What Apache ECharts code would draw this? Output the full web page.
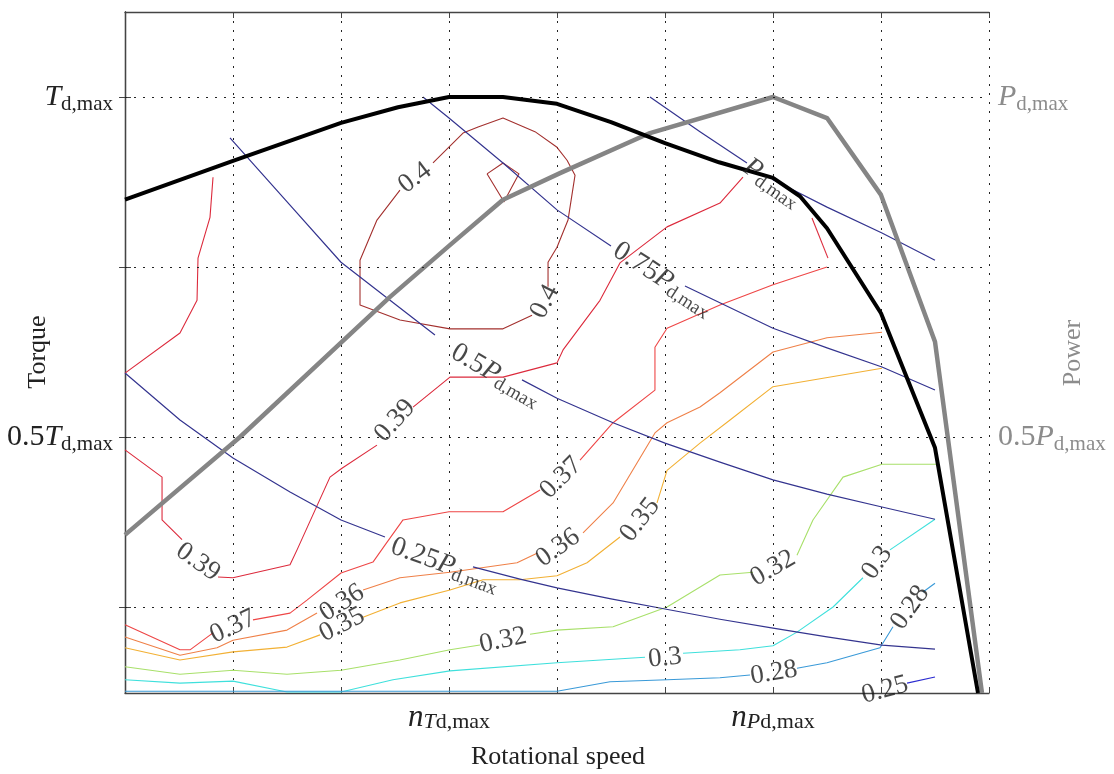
<!DOCTYPE html>
<html><head><meta charset="utf-8">
<script src="https://cdn.jsdelivr.net/npm/echarts@6/dist/echarts.min.js"></script>
<style>html,body{margin:0;padding:0;background:#fff;}#chart{width:1114px;height:774px;}</style>
</head><body><div id="chart"></div>
<script>
// ---------------- data (x: speed in grid units, y: torque as fraction of Td,max) ----------------
const xTickValues = [3, 6];
const xTickNames = ['T', 'P'];
const yGridValues = [0.25, 0.5, 0.75, 1.0];
const yLabelValues = [0.5, 1.0];
const yLabelCoefs = ['0.5', ''];

const torqueCurve = [[0,0.849],[1,0.906],[2,0.962],[2.528,0.985],[3,1.0],[3.5,1.0],[4,0.99],[4.5,0.963],[5,0.932],[5.5,0.904],[6,0.881],[6.25,0.854],[6.5,0.807],[7,0.682],[7.5,0.484],[7.898,0.1235]];
const powerCurve = [[0,0.356],[1.065,0.5],[2.454,0.706],[3,0.781],[3.5,0.849],[4.028,0.888],[4.861,0.947],[6,1.0],[6.5,0.969],[7,0.856],[7.5,0.64],[7.935,0.1235]];

const pMaxA = [[4.861,1.0],[5.324,0.949],[5.759,0.903]];
const pMaxB = [[5.991,0.879],[6.5,0.838],[7.009,0.8],[7.5,0.76]];
const p075A = [[2.759,1.0],[3.0,0.969],[3.5,0.903],[4.0,0.834],[4.5,0.781]];
const p075B = [[5.185,0.722],[6.0,0.66],[6.5,0.631],[7.009,0.603],[7.5,0.569]];
const p050A = [[0.972,0.94],[1.528,0.841],[2.0,0.757],[2.454,0.701],[2.87,0.65]];
const p050B = [[3.676,0.584],[4.0,0.557],[4.519,0.521],[5.0,0.491],[5.509,0.463],[6.0,0.437],[6.5,0.416],[7.009,0.397],[7.5,0.379]];
const p025A = [[0,0.594],[0.509,0.525],[1.0,0.469],[1.528,0.419],[2.0,0.378],[2.407,0.353]];
const p025B = [[3.222,0.309],[3.657,0.291],[4.0,0.278],[4.5,0.262],[5.0,0.247],[5.509,0.232],[6.0,0.219],[6.5,0.206],[7.009,0.194],[7.5,0.188]];

const c40a = [[3.917,0.721],[3.917,0.757],[4.0,0.779],[4.102,0.819],[4.167,0.885],[4.093,0.907],[4.0,0.926],[3.796,0.949],[3.5,0.969],[3.269,0.956],[3.13,0.947],[2.852,0.903]];
const c40b = [[2.546,0.863],[2.333,0.819],[2.176,0.76],[2.176,0.694],[2.546,0.672],[3.009,0.659],[3.5,0.659],[3.769,0.679]];
const c40island = [[3.352,0.887],[3.5,0.903],[3.648,0.887],[3.509,0.846],[3.352,0.887]];
const c39a = [[0.815,0.882],[0.787,0.823],[0.676,0.763],[0.667,0.701],[0.509,0.653],[0,0.594]];
const c39b = [[0,0.481],[0.343,0.441],[0.343,0.378],[0.528,0.349]];
const c39c = [[0.861,0.294],[1.0,0.293],[1.528,0.312],[1.593,0.334],[1.898,0.441],[2.009,0.454],[2.333,0.488]];
const c39d = [[2.667,0.544],[3.009,0.588],[3.5,0.588],[4.0,0.609],[4.056,0.628],[4.398,0.701],[4.583,0.756],[5.019,0.809],[5.509,0.844],[5.722,0.882]];
const c39e = [[6.361,0.822],[6.509,0.763]];
const c37a = [[0,0.224],[0.509,0.187],[0.602,0.187],[0.815,0.212]];
const c37b = [[1.185,0.231],[1.528,0.241],[1.685,0.26],[2.0,0.3],[2.296,0.316],[2.407,0.341],[2.574,0.378],[3.0,0.39],[3.5,0.39],[3.843,0.422]];
const c37c = [[4.213,0.466],[4.519,0.521],[4.907,0.569],[4.907,0.632],[5.019,0.66],[5.509,0.694],[6.0,0.724],[6.5,0.75]];
const c36a = [[0,0.206],[0.509,0.179],[0.852,0.19],[1.0,0.201],[1.5,0.216],[1.778,0.241]];
const c36b = [[2.204,0.275],[2.546,0.293],[3.009,0.301],[3.63,0.315],[3.815,0.329]];
const c36c = [[4.241,0.359],[4.519,0.403],[4.907,0.506],[5.019,0.521],[5.324,0.544],[5.509,0.565],[6.0,0.625],[6.5,0.646],[7.009,0.654]];
const c35a = [[0,0.19],[0.509,0.172],[1.0,0.184],[1.5,0.191],[1.806,0.209]];
const c35b = [[2.204,0.235],[2.546,0.256],[3.009,0.275],[3.315,0.29],[3.657,0.29],[4.0,0.296],[4.278,0.315],[4.583,0.353]];
const c35c = [[4.926,0.403],[5.019,0.451],[5.324,0.491],[5.602,0.525],[6.0,0.574],[7.009,0.601]];
const c32a = [[0,0.162],[0.509,0.151],[1.0,0.157],[1.5,0.151],[2.0,0.157],[2.546,0.172],[3.009,0.187],[3.287,0.194]];
const c32b = [[3.75,0.21],[4.0,0.216],[4.519,0.221],[5.019,0.25],[5.509,0.297],[5.815,0.301]];
const c32c = [[6.222,0.326],[6.37,0.378],[6.648,0.441],[7.009,0.46],[7.519,0.46]];
const c30a = [[0,0.143],[0.509,0.138],[1.0,0.141],[1.5,0.125],[2.0,0.125],[2.481,0.143],[3.009,0.156],[4.0,0.168],[4.815,0.176]];
const c30b = [[5.167,0.182],[5.694,0.187],[6.0,0.193],[6.222,0.213],[6.556,0.25],[6.833,0.293]];
const c30c = [[7.083,0.334],[7.5,0.379]];
const c28a = [[0,0.126],[4.0,0.126],[4.491,0.14],[5.019,0.143],[5.509,0.146],[5.787,0.15]];
const c28b = [[6.222,0.16],[6.5,0.168],[6.991,0.19],[7.111,0.221]];
const c28c = [[7.389,0.272],[7.5,0.285]];
const c25a = [[7.241,0.138],[7.5,0.147]];

const contourLevels = ['0.4', '0.39', '0.37', '0.36', '0.35', '0.32', '0.3', '0.28', '0.25'];
const contourSegments = [
  [c40a, c40b, c40island],
  [c39a, c39b, c39c, c39d, c39e],
  [c37a, c37b, c37c],
  [c36a, c36b, c36c],
  [c35a, c35b, c35c],
  [c32a, c32b, c32c],
  [c30a, c30b, c30c],
  [c28a, c28b, c28c],
  [c25a]
];
const powerSegments = [[pMaxA, pMaxB], [p075A, p075B], [p050A, p050B], [p025A, p025B]];

// contour labels: [text, x, y]
const contourLabels = [
  ['0.4',2.685,0.881],['0.4',3.889,0.699],
  ['0.39',0.676,0.316],['0.39',2.5,0.524],
  ['0.37',1.0,0.221],['0.37',4.037,0.44],
  ['0.36',2.009,0.256],['0.36',4.009,0.337],
  ['0.35',2.009,0.224],['0.35',4.769,0.378],
  ['0.32',3.5,0.201],['0.32',6.0,0.307],
  ['0.3',5.0,0.175],['0.3',6.963,0.315],
  ['0.28',6.009,0.153],['0.28',7.269,0.249],
  ['0.25',7.037,0.128]
];
// power labels: [coefficient, x, y]
const powerLabels = [['',5.991,0.874],['0.75',4.981,0.732],['0.5',3.435,0.591],['0.25',2.963,0.312]];

// ---------------- styles ----------------
const FONT = 'Liberation Serif';
const contourColors = ['#a3302e','#dc2a3c','#ee4646','#ef8048','#f2b034','#a8e06a','#3fe0dc','#3a9ad8','#2b2bd0'];
const contourLabelAngles = [37,62,-35,48,25,45,32,35,27,52,12,30,6,55,9,55,15];
const powerLabelAngles = [-35,-33,-30,-20];
const BLUE = '#34348f';

function lineSeries(data, color, width, z) {
  return {type:'line', data:data, showSymbol:false, symbol:'none', silent:true, animation:false, z:z,
    lineStyle:{color:color, width:width, join:'round'}, emphasis:{disabled:true}, clip:true};
}

const series = [];
// horizontal dotted grid lines
series.push({type:'line', data:[], silent:true, animation:false, z:1,
  markLine:{silent:true, animation:false, symbol:['none','none'], label:{show:false},
    lineStyle:{color:'#222', type:[2,7], width:1}, emphasis:{disabled:true},
    data: yGridValues.map(v => ({yAxis:v}))}});

contourSegments.forEach((segs, i) => segs.forEach(s => series.push(lineSeries(s, contourColors[i], 1.1, 2))));
powerSegments.forEach(segs => segs.forEach(s => series.push(lineSeries(s, BLUE, 1.2, 3))));
series.push(lineSeries(powerCurve, '#858585', 4.5, 4));
series.push(lineSeries(torqueCurve, '#000', 4, 5));

series.push({type:'scatter', silent:true, animation:false, z:6, symbolSize:1, itemStyle:{color:'rgba(0,0,0,0)'},
  data: contourLabels.map((d, i) => ({name:d[0], value:[d[1], d[2]],
    label:{rotate:contourLabelAngles[i]}})),
  label:{show:true, position:'inside', formatter:'{b}', fontFamily:FONT, fontSize:27, color:'#1a1a1a'}
});
series.push({type:'scatter', silent:true, animation:false, z:6, symbolSize:1, itemStyle:{color:'rgba(0,0,0,0)'},
  data: powerLabels.map((d, i) => ({name:d[0], value:[d[1], d[2]],
    label:{rotate:powerLabelAngles[i]}})),
  label:{show:true, position:'inside', color:'#1a1a1a',
    formatter: p => (p.name ? '{n|' + p.name + '}' : '') + '{it|P}{sub|d,max}',
    rich:{n:{fontFamily:FONT, fontSize:28, color:'#1a1a1a'},
          it:{fontFamily:FONT, fontSize:28, fontStyle:'italic', color:'#1a1a1a'},
          sub:{fontFamily:FONT, fontSize:19, color:'#1a1a1a', padding:[13,0,0,0]}}}
});

const yRich = (col) => ({
  n:{fontFamily:FONT, fontSize:30, color:col},
  it:{fontFamily:FONT, fontSize:30, fontStyle:'italic', color:col},
  sub:{fontFamily:FONT, fontSize:21, color:col, padding:[14,0,0,0]}
});
function yFormatter(letter) {
  return function (v) {
    const i = yLabelValues.findIndex(t => Math.abs(t - v) < 1e-6);
    if (i < 0) return '';
    return (yLabelCoefs[i] ? '{n|' + yLabelCoefs[i] + '}' : '') + '{it|' + letter + '}{sub|d,max}';
  };
}
const frame = {show:true, lineStyle:{color:'#444', width:1.3}};

const option = {
  backgroundColor:'#fff',
  animation:false,
  grid:{left:125, right:125, top:12, bottom:81, containLabel:false},
  xAxis:[
    {type:'value', min:0, max:8, interval:1, position:'bottom', axisLine:frame,
     axisTick:{show:true, inside:true, length:6, lineStyle:{color:'#444'}},
     splitLine:{show:true, lineStyle:{color:'#222', type:[2,7], width:1}},
     axisLabel:{show:true, margin:9, color:'#222',
       formatter: v => { const i = xTickValues.indexOf(v); return i < 0 ? '' : '{it|n}{subit|' + xTickNames[i] + '}{sub|d,max}'; },
       rich:{it:{fontFamily:FONT, fontSize:31, fontStyle:'italic', color:'#222'},
             subit:{fontFamily:FONT, fontSize:22, fontStyle:'italic', color:'#222', padding:[9,0,0,0]},
             sub:{fontFamily:FONT, fontSize:22, color:'#222', padding:[9,0,0,0]}}}},
    {type:'value', min:0, max:8, interval:1, position:'top', axisLine:frame,
     axisTick:{show:true, inside:true, length:6, lineStyle:{color:'#444'}},
     splitLine:{show:false}, axisLabel:{show:false}}
  ],
  yAxis:[
    {type:'value', min:0.1235, max:1.125, position:'left', axisLine:frame, splitLine:{show:false},
     axisTick:{show:true, inside:true, length:6, customValues:yGridValues, lineStyle:{color:'#444'}},
     axisLabel:{show:true, margin:12, customValues:yLabelValues, formatter:yFormatter('T'), rich:yRich('#222')}},
    {type:'value', min:0.1235, max:1.125, position:'right', axisLine:frame, splitLine:{show:false},
     axisTick:{show:true, inside:true, length:6, customValues:yGridValues, lineStyle:{color:'#444'}},
     axisLabel:{show:true, margin:9, customValues:yLabelValues, formatter:yFormatter('P'), rich:yRich('#8c8c8c')}}
  ],
  graphic:[
    {type:'text', x:38, y:352, rotation:Math.PI/2, silent:true,
     style:{text:'Torque', fontFamily:FONT, fontSize:26, fill:'#222', align:'center', verticalAlign:'middle'}},
    {type:'text', x:1073, y:353, rotation:Math.PI/2, silent:true,
     style:{text:'Power', fontFamily:FONT, fontSize:26, fill:'#8c8c8c', align:'center', verticalAlign:'middle'}},
    {type:'text', x:558, y:757, silent:true,
     style:{text:'Rotational speed', fontFamily:FONT, fontSize:26, fill:'#222', align:'center', verticalAlign:'middle'}}
  ],
  series: series
};
const chart = echarts.init(document.getElementById('chart'), null, {renderer:'canvas'});
chart.setOption(option);
</script></body></html>
